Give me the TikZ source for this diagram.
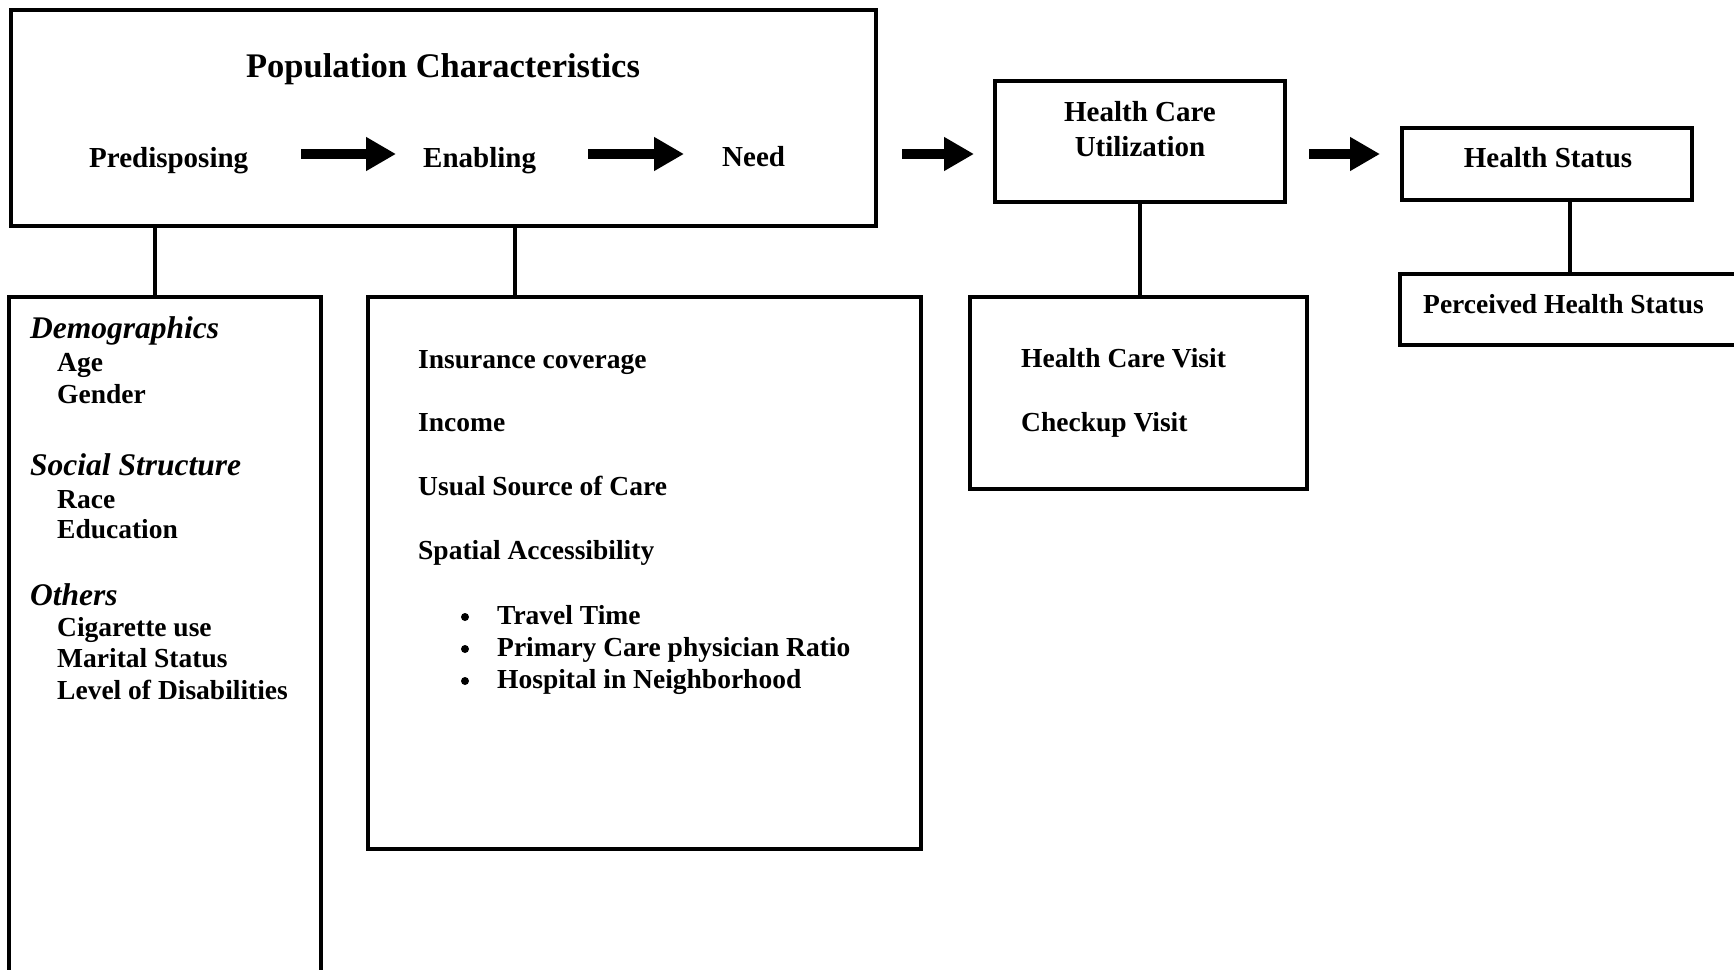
\documentclass[tikz,border=0pt]{standalone}
\usepackage{fontspec}
\setmainfont{Liberation Serif}
\usetikzlibrary{arrows.meta,calc}
\begin{document}
\begin{tikzpicture}[x=1pt,y=-1pt,
  box/.style={draw, line width=3.5pt, inner sep=0pt, outer sep=0pt, anchor=north west},
  conn/.style={line width=3.5pt},
  fat/.style={line width=10pt, -{Triangle[length=30pt,width=32pt]}},
  lbl/.style={inner sep=0pt, anchor=base west, font=\fontsize{29}{32}\selectfont\bfseries},
  clbl/.style={inner sep=0pt, anchor=base, font=\fontsize{29}{32}\selectfont\bfseries},
  ttl/.style={inner sep=0pt, anchor=base, font=\fontsize{34.5}{38}\selectfont\bfseries},
  itm/.style={inner sep=0pt, anchor=base west, font=\fontsize{27.5}{30}\selectfont\bfseries},
  hdr/.style={inner sep=0pt, anchor=base west, font=\fontsize{31.5}{34}\selectfont\bfseries\itshape},
  dot/.style={circle, fill, inner sep=0pt, minimum size=8pt}]
\useasboundingbox (0,0) rectangle (1734,969);

% boxes
\node[box, minimum width=865pt, minimum height=216pt] (main) at (11,10) {};
\node[box, minimum width=290pt, minimum height=121pt] (hcu) at (995,81) {};
\node[box, minimum width=290pt, minimum height=72pt] (hs) at (1402,128) {};
\node[box, minimum width=312pt, minimum height=720pt] (left) at (9,297) {};
\node[box, minimum width=553pt, minimum height=552pt] (mid) at (368,297) {};
\node[box, minimum width=337pt, minimum height=192pt] (visit) at (970,297) {};
\node[box, minimum width=360pt, minimum height=71pt] (perc) at (1400,274) {};

% top texts
\node[ttl] (title) at (443,77) {Population Characteristics};
\node[lbl] (pred) at (89,167) {Predisposing};
\node[lbl] (enab) at (423,167) {Enabling};
\node[lbl] (need) at (722,166) {Need};
\node[clbl] (hcu1) at (1140,121) {Health Care};
\node[clbl] (hcu2) at (1140,156) {Utilization};
\node[clbl] (hst) at (1548,167) {Health Status};

% fat arrows
\coordinate (a1s) at (301,154); \coordinate (a1e) at (396,154);
\coordinate (a2s) at (588,154); \coordinate (a2e) at (684,154);
\coordinate (a3s) at (902,154); \coordinate (a3e) at (974,154);
\coordinate (a4s) at (1309,154); \coordinate (a4e) at (1380,154);
\draw[fat] (a1s) -- (a1e);
\draw[fat] (a2s) -- (a2e);
\draw[fat] (a3s) -- (a3e);
\draw[fat] (a4s) -- (a4e);

% connectors
\draw[conn] ($(main.south west)+(144,0)$) -- ($(left.north west)+(146,0)$);
\draw[conn] ($(main.south west)+(504,0)$) -- ($(mid.north west)+(147,0)$);
\draw[conn] (hcu.south) -- (visit.north -| hcu.south);
\draw[conn] ($(hs.south west)+(168,0)$) -- ($(perc.north west)+(170,0)$);

% left box
\node[hdr] (demo) at (30,338) {Demographics};
\node[itm] (age) at (57,371) {Age};
\node[itm] (gender) at (57,403) {Gender};
\node[hdr] (soc) at (30,475) {Social Structure};
\node[itm] (race) at (57,508) {Race};
\node[itm] (edu) at (57,538) {Education};
\node[hdr] (oth) at (30,605) {Others};
\node[itm] (cig) at (57,636) {Cigarette use};
\node[itm] (mar) at (57,667) {Marital Status};
\node[itm] (lev) at (57,699) {Level of Disabilities};

% middle box
\node[itm] (ins) at (418,368) {Insurance coverage};
\node[itm] (inc) at (418,431) {Income};
\node[itm] (usc) at (418,495) {Usual Source of Care};
\node[itm] (spa) at (418,559) {Spatial Accessibility};
\node[dot] (b1) at (465,617) {};
\node[itm] (tt) at (497,624) {Travel Time};
\node[dot] (b2) at (465,649) {};
\node[itm] (pcp) at (497,656) {Primary Care physician Ratio};
\node[dot] (b3) at (465,681) {};
\node[itm] (hosp) at (497,688) {Hospital in Neighborhood};

% visit box
\node[itm] (hcv) at (1021,367) {Health Care Visit};
\node[itm] (chk) at (1021,431) {Checkup Visit};

% perceived
\node[itm] (phs) at (1423,313) {Perceived Health Status};
\end{tikzpicture}
\end{document}
